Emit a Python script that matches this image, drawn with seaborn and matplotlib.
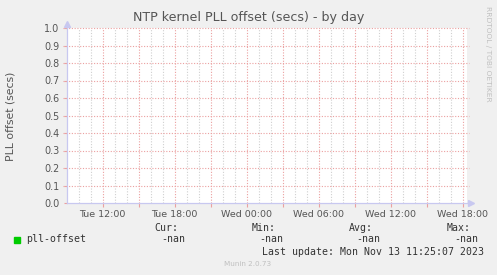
import numpy as np
import pandas as pd
import matplotlib
matplotlib.use("Agg")
import matplotlib.pyplot as plt
import seaborn as sns

# ---- data (all values unknown -> NaN) ----
hours = [0.0, 33.33]                       # hours since Tue 09:00
pll_offset = [np.nan, np.nan]
tick_hours = [3, 9, 15, 21, 27, 33]
tick_labels = ["Tue 12:00", "Tue 18:00", "Wed 00:00", "Wed 06:00", "Wed 12:00", "Wed 18:00"]
y_ticks = [0.0, 0.1, 0.2, 0.3, 0.4, 0.5, 0.6, 0.7, 0.8, 0.9, 1.0]
legend_name = "pll-offset"
stat_names = ["Cur:", "Min:", "Avg:", "Max:"]
stat_values = ["-nan", "-nan", "-nan", "-nan"]
last_update = "Last update: Mon Nov 13 11:25:07 2023"
title = "NTP kernel PLL offset (secs) - by day"

sns.set_theme(style="white")
plt.rcParams['font.family'] = ['DejaVu Sans']

W, H = 497, 275
fig = plt.figure(figsize=(W / 100, H / 100), dpi=100, facecolor="#F0F0F0")
ax = fig.add_axes([66.5 / W, 1 - 203 / H, 400 / W, 175 / H])
ax.set_facecolor("white")

df = pd.DataFrame({"hours": hours, "pll_offset": pll_offset})
sns.lineplot(data=df, x="hours", y="pll_offset", ax=ax, color="#00cc00", legend=False)

ax.set_xlim(0, 33.333)
ax.set_ylim(0, 1.0)

major_c = "#eba0a0"
minor_c = "#d0d0d0"
axis_c = "#c8c8f0"

# minor vertical grid every hour, major every 3 hours
for h in range(1, 34):
    if h % 3 == 0:
        ax.axvline(h, color=major_c, lw=0.8, ls=(0, (1, 1.5)), zorder=1)
    else:
        ax.axvline(h, color=minor_c, lw=0.8, ls=(0, (1, 1.5)), zorder=0.5)
for yv in y_ticks[1:]:
    ax.axhline(yv, xmin=-0.008, xmax=1.006, color=major_c, lw=0.8, ls=(0, (1, 1.5)),
               zorder=1, clip_on=False)

ax.set_xticks(tick_hours)
ax.set_xticklabels(tick_labels)
ax.set_yticks(y_ticks)
ax.set_yticklabels([f"{v:.1f}" for v in y_ticks])
ax.set_xticks(range(3, 34, 3), minor=True)
ax.tick_params(axis="x", which="both", length=3, width=0.8, color=major_c, pad=2,
               labelsize=6.8, labelcolor="#555555", bottom=True)
ax.tick_params(axis="y", length=2, width=0.8, color=major_c, pad=3,
               labelsize=6.9, labelcolor="#555555", left=True)

for s in ["top", "right"]:
    ax.spines[s].set_visible(False)
for s in ["left", "bottom"]:
    ax.spines[s].set_color(axis_c)
    ax.spines[s].set_linewidth(0.9)
    ax.spines[s].set_zorder(3)

# axis arrows
ax.plot([0], [1.0 + 4 / 175], marker="^", color=axis_c, markersize=4.5,
        transform=ax.transAxes, clip_on=False)
ax.plot([1.0 + 4 / 400], [0], marker=">", color=axis_c, markersize=4.5,
        transform=ax.transAxes, clip_on=False)

ax.set_xlabel("")
ax.set_ylabel("")
fig.text(10.5 / W, 1 - 116 / H, "PLL offset (secs)", rotation=90, ha="center", va="center",
         fontsize=7.8, color="#555555")

fig.text(249 / W, 1 - 18 / H, title, ha="center", va="center", fontsize=9.1, color="#555555")
fig.text(488 / W, 1 - 53.5 / H, "RRDTOOL / TOBI OETIKER", rotation=-90, ha="center",
         va="center", fontsize=5.4, color="#c0c0c0")

mono = "DejaVu Sans Mono"
fs = 7.1
tc = "#333333"
fig.patches.append(plt.Rectangle((14 / W, 1 - 243 / H), 6 / W, 6 / H,
                                 transform=fig.transFigure, color="#00cc00"))
fig.text(26 / W, 1 - 239.5 / H, legend_name, family=mono, fontsize=fs, color=tc, va="center")
name_x = [154.3, 251.7, 349, 447]
val_x = [161, 259, 356, 454]
for nx, vx, n, v in zip(name_x, val_x, stat_names, stat_values):
    fig.text(nx / W, 1 - 227.7 / H, n, family=mono, fontsize=fs, color=tc, va="center")
    fig.text(vx / W, 1 - 239.5 / H, v, family=mono, fontsize=fs, color=tc, va="center")
fig.text(261.7 / W, 1 - 251.7 / H, last_update, family=mono, fontsize=fs, color=tc, va="center")
fig.text(223.5 / W, 1 - 264.3 / H, "Munin 2.0.73", fontsize=5.2, color="#c0c0c0", va="center")

fig.savefig("out.png", dpi=100, facecolor=fig.get_facecolor())
